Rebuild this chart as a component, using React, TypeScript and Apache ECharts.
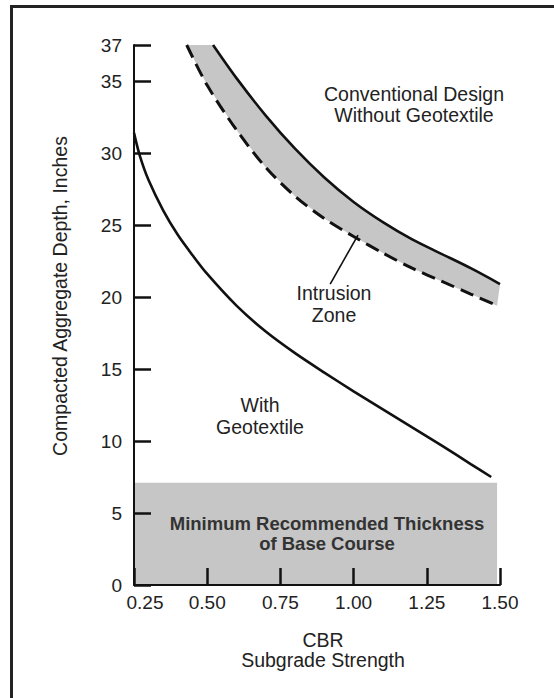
import React, { useEffect, useRef } from 'react';
import * as echarts from 'echarts';

const FONT = '"Liberation Sans", Arial, Helvetica, sans-serif';

// Axis ticks
const yTickValues = [0, 5, 10, 15, 20, 25, 30, 35, 37.5];
const yTickLabels = ['0', '5', '10', '15', '20', '25', '30', '35', '37'];
const xTickLabels = ['0.25', '0.50', '0.75', '1.00', '1.25', '1.50'];

// With geotextile
const withGeoCBR = [0.25, 0.27, 0.3, 0.35, 0.4, 0.45, 0.5, 0.6, 0.7, 0.8, 0.9, 1.0, 1.1, 1.2, 1.3, 1.4, 1.47];
const withGeoDepth = [31.4, 29.8, 28.1, 26.0, 24.3, 22.9, 21.6, 19.4, 17.6, 16.1, 14.75, 13.45, 12.2, 10.95, 9.7, 8.4, 7.5];

// Conventional design without geotextile (upper edge of intrusion zone)
const convCBR = [0.52, 0.6, 0.7, 0.8, 0.9, 1.0, 1.1, 1.2, 1.3, 1.4, 1.5];
const convDepth = [37.5, 35.2, 32.6, 30.3, 28.3, 26.6, 25.2, 24.0, 23.0, 22.0, 20.9];

// Lower (dashed) edge of intrusion zone
const intrCBR = [0.43, 0.5, 0.6, 0.7, 0.8, 0.9, 1.0, 1.1, 1.2, 1.3, 1.4, 1.49];
const intrDepth = [37.5, 34.7, 31.6, 29.0, 27.0, 25.45, 24.2, 23.05, 22.0, 21.1, 20.2, 19.4];

// Minimum recommended thickness of base course
const minBaseCBR = [0.25, 1.49];
const minBaseDepth = [0, 7.1];

// Leader line from "Intrusion Zone" label
const leaderCBR = [0.92, 1.015];
const leaderDepth = [20.9, 24.3];

const pairs = (xs: number[], ys: number[]) => xs.map((x, i) => [x, ys[i]]);

export default function App() {
  const ref = useRef<HTMLDivElement>(null);

  useEffect(() => {
    if (!ref.current) return;
    const chart = echarts.init(ref.current, undefined, { renderer: 'svg' });
    const fill = '#c6c6c6';
    const ink = '#111';
    const textColor = '#222';

    const option: any = {
      animation: false,
      grid: { left: 134, right: 54, top: 45, bottom: 113 },
      xAxis: {
        type: 'value',
        min: 0.25,
        max: 1.5,
        interval: 0.25,
        z: 10,
        name: 'CBR\nSubgrade Strength',
        nameLocation: 'middle',
        nameGap: 45,
        nameTextStyle: { fontFamily: FONT, fontSize: 19.5, color: textColor, lineHeight: 20, padding: [0, 0, 0, 12] },
        axisLine: { lineStyle: { color: ink, width: 2 } },
        axisTick: { inside: true, length: 17, lineStyle: { color: ink, width: 2.5 } },
        splitLine: { show: false },
        axisLabel: {
          fontFamily: FONT,
          fontSize: 19,
          color: textColor,
          margin: 8,
          formatter: (v: number) => {
            const i = Math.round((v - 0.25) / 0.25);
            const t = xTickLabels[i] ?? String(v);
            return i === 0 ? `{first|${t}}` : t;
          },
          rich: { first: { fontFamily: FONT, fontSize: 19, color: textColor, padding: [0, 0, 0, 22] } },
        },
      },
      yAxis: {
        type: 'value',
        min: 0,
        max: 37.5,
        interval: 5,
        z: 10,
        name: 'Compacted Aggregate Depth, Inches',
        nameLocation: 'middle',
        nameRotate: 90,
        nameGap: 64,
        nameTextStyle: { fontFamily: FONT, fontSize: 19.5, color: textColor, padding: [0, 0, 0, 38] },
        axisLine: { lineStyle: { color: ink, width: 2 } },
        axisTick: { inside: true, length: 17, lineStyle: { color: ink, width: 2.5 } },
        splitLine: { show: false },
        axisLabel: {
          fontFamily: FONT,
          fontSize: 19,
          color: textColor,
          margin: 12,
          showMaxLabel: true,
          formatter: (v: number) => {
            const i = yTickValues.findIndex((t) => Math.abs(t - v) < 1e-6);
            return i >= 0 ? yTickLabels[i] : String(v);
          },
        },
      },
      series: [
        {
          type: 'custom',
          name: 'Minimum Recommended Thickness',
          coordinateSystem: 'cartesian2d',
          z: 1,
          silent: true,
          data: [[minBaseCBR[0], minBaseDepth[0]]],
          renderItem: (_p: any, api: any) => {
            const a = api.coord([minBaseCBR[0], minBaseDepth[1]]);
            const b = api.coord([minBaseCBR[1], minBaseDepth[0]]);
            return {
              type: 'rect',
              shape: { x: a[0], y: a[1], width: b[0] - a[0], height: b[1] - a[1] },
              style: { fill },
            };
          },
        },
        {
          type: 'custom',
          name: 'Intrusion Zone',
          coordinateSystem: 'cartesian2d',
          z: 1,
          silent: true,
          data: [[intrCBR[0], intrDepth[0]]],
          renderItem: (_p: any, api: any) => {
            const pts: number[][] = [];
            intrCBR.forEach((x, i) => pts.push(api.coord([x, intrDepth[i]])));
            for (let i = convCBR.length - 1; i >= 0; i--) pts.push(api.coord([convCBR[i], convDepth[i]]));
            return { type: 'polygon', shape: { points: pts }, style: { fill } };
          },
        },
        {
          type: 'line',
          name: 'Conventional Design Without Geotextile',
          data: pairs(convCBR, convDepth),
          smooth: 0.3,
          symbol: 'none',
          z: 3,
          lineStyle: { color: ink, width: 2.6 },
        },
        {
          type: 'line',
          name: 'Intrusion Zone lower bound',
          data: pairs(intrCBR, intrDepth),
          smooth: 0.3,
          symbol: 'none',
          z: 3,
          lineStyle: { color: ink, width: 3, type: [14, 7] },
        },
        {
          type: 'line',
          name: 'With Geotextile',
          data: pairs(withGeoCBR, withGeoDepth),
          smooth: 0.3,
          symbol: 'none',
          z: 3,
          lineStyle: { color: ink, width: 2.6 },
        },
        {
          type: 'line',
          name: 'leader',
          data: pairs(leaderCBR, leaderDepth),
          symbol: 'none',
          z: 3,
          lineStyle: { color: ink, width: 1.6 },
        },
      ],
      graphic: [
        { type: 'line', z: 100, shape: { x1: 11.5, y1: 5, x2: 11.5, y2: 698 }, style: { stroke: '#222', lineWidth: 3 } },
        { type: 'line', z: 100, shape: { x1: 10, y1: 6.5, x2: 554, y2: 6.5 }, style: { stroke: '#222', lineWidth: 3 } },
        {
          type: 'text', z: 100, x: 414, y: 104.5,
          style: { text: 'Conventional Design\nWithout Geotextile', font: `19.5px ${FONT}`, fill: textColor, align: 'center', verticalAlign: 'middle', lineHeight: 21 },
        },
        {
          type: 'text', z: 100, x: 334, y: 304,
          style: { text: 'Intrusion\nZone', font: `19.5px ${FONT}`, fill: textColor, align: 'center', verticalAlign: 'middle', lineHeight: 21.5 },
        },
        {
          type: 'text', z: 100, x: 260, y: 416,
          style: { text: 'With\nGeotextile', font: `19.5px ${FONT}`, fill: textColor, align: 'center', verticalAlign: 'middle', lineHeight: 21.5 },
        },
        {
          type: 'text', z: 100, x: 327, y: 533,
          style: { text: 'Minimum Recommended Thickness\nof Base Course', font: `bold 18.5px ${FONT}`, fill: '#333', align: 'center', verticalAlign: 'middle', lineHeight: 20 },
        },
      ],
    };
    chart.setOption(option);
    return () => chart.dispose();
  }, []);

  return <div ref={ref} style={{ position: 'absolute', left: 0, top: 0, width: 554, height: 698, background: '#fff' }} />;
}
